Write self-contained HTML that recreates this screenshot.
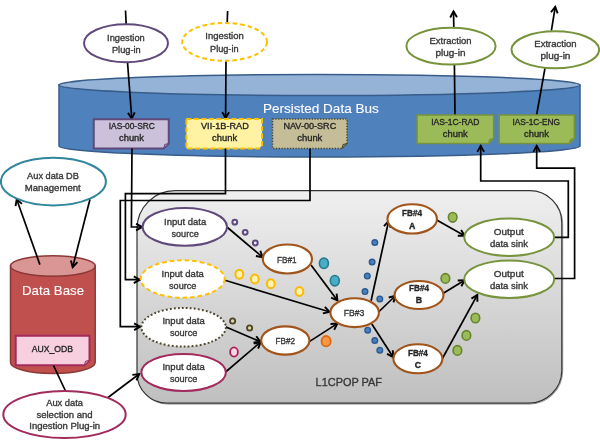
<!DOCTYPE html>
<html><head><meta charset="utf-8">
<style>
html,body{margin:0;padding:0;background:#fff;width:600px;height:440px;overflow:hidden}
svg{display:block;will-change:transform}
text{font-family:"Liberation Sans",sans-serif;fill:#383838;stroke:#383838;stroke-width:0.35}
</style></head><body>
<svg width="600" height="440" viewBox="0 0 600 440">
<defs>
<marker id="ar" markerUnits="userSpaceOnUse" markerWidth="12" markerHeight="12" refX="7.4" refY="4.5" orient="auto">
<path d="M1,1.1 L7,4.5 L1,7.9" fill="none" stroke="#000" stroke-width="1.9" stroke-linejoin="miter"/>
</marker>
<linearGradient id="paf" x1="0" y1="0" x2="0" y2="1">
<stop offset="0" stop-color="#efefef"/>
<stop offset="1" stop-color="#bfbfbf"/>
</linearGradient>
</defs>
<path d="M59,85 L59,146 A260.5,11 0 0 0 580,146 L580,85 Z" fill="#4f81bd" stroke="#385d8a" stroke-width="1.5"/>
<ellipse cx="319.5" cy="85" rx="260.5" ry="10.5" fill="#95b3d7" stroke="#385d8a" stroke-width="1.5"/>
<text x="262.9" y="113" font-size="13.2" text-anchor="start" textLength="115.9" lengthAdjust="spacingAndGlyphs" style="fill:#fff;stroke:#fff;stroke-width:0.1">Persisted Data Bus</text>
<path d="M10.5,266 L10.5,362.5 A42.35,11 0 0 0 95.2,362.5 L95.2,266 Z" fill="#c0504d" stroke="#8c3836" stroke-width="1.5"/>
<ellipse cx="52.85" cy="266" rx="42.35" ry="10.2" fill="#d99694" stroke="#8c3836" stroke-width="1.5"/>
<text x="53.1" y="294.8" font-size="13.2" text-anchor="middle" textLength="62.2" lengthAdjust="spacingAndGlyphs" style="fill:#fff;stroke:#fff;stroke-width:0.1">Data Base</text>
<path d="M137,228.7 A38,38 0 0 1 175,190.7 H529.8 A32,32 0 0 1 561.8,222.7 V370.2 A33,33 0 0 1 528.8,403.2 H167 A30,30 0 0 1 137,373.2 Z" fill="#fff" stroke="#9a9a9a" stroke-width="1" transform="translate(0.9,0.9)"/>
<path d="M137,228.7 A38,38 0 0 1 175,190.7 H529.8 A32,32 0 0 1 561.8,222.7 V370.2 A33,33 0 0 1 528.8,403.2 H167 A30,30 0 0 1 137,373.2 Z" fill="url(#paf)" stroke="#333" stroke-width="1.2"/>
<text x="315.6" y="386.4" font-size="11.5" text-anchor="start" textLength="66.4" lengthAdjust="spacingAndGlyphs">L1CPOP PAF</text>
<line x1="125.5" y1="10.5" x2="126.2" y2="24.5" stroke="#000" stroke-width="1.7"/>
<line x1="127.5" y1="62" x2="131.8" y2="119" stroke="#000" stroke-width="1.7" marker-end="url(#ar)"/>
<ellipse cx="126" cy="43.2" rx="42" ry="19" fill="#fff" stroke="#604a7b" stroke-width="2"/>
<text x="125.9" y="41" font-size="9.3" text-anchor="middle" textLength="37.7" lengthAdjust="spacingAndGlyphs">Ingestion</text>
<text x="126.3" y="53.3" font-size="9.3" text-anchor="middle" textLength="28.7" lengthAdjust="spacingAndGlyphs">Plug-in</text>
<line x1="227.6" y1="11" x2="227.2" y2="23" stroke="#000" stroke-width="1.7"/>
<line x1="226" y1="60.5" x2="225.6" y2="118.5" stroke="#000" stroke-width="1.7" marker-end="url(#ar)"/>
<ellipse cx="224.6" cy="41.9" rx="42.4" ry="18.9" fill="#fff" stroke="#ffc000" stroke-width="2" stroke-dasharray="4.5,3"/>
<text x="224.5" y="39.2" font-size="9.3" text-anchor="middle" textLength="38.5" lengthAdjust="spacingAndGlyphs">Ingestion</text>
<text x="224.3" y="51.5" font-size="9.3" text-anchor="middle" textLength="28.5" lengthAdjust="spacingAndGlyphs">Plug-in</text>
<line x1="453.8" y1="27.8" x2="453.5" y2="11" stroke="#000" stroke-width="1.7" marker-end="url(#ar)"/>
<line x1="454.4" y1="64.6" x2="455" y2="115" stroke="#000" stroke-width="1.7"/>
<ellipse cx="451" cy="46.2" rx="44.6" ry="18.4" fill="#fff" stroke="#77933c" stroke-width="2"/>
<text x="450.5" y="44" font-size="9.3" text-anchor="middle" textLength="42" lengthAdjust="spacingAndGlyphs">Extraction</text>
<text x="450.5" y="55.9" font-size="9.3" text-anchor="middle" textLength="29.9" lengthAdjust="spacingAndGlyphs">plug-in</text>
<line x1="551.4" y1="30.7" x2="555.3" y2="6.5" stroke="#000" stroke-width="1.7" marker-end="url(#ar)"/>
<line x1="545" y1="68.2" x2="536.6" y2="115" stroke="#000" stroke-width="1.7"/>
<ellipse cx="555.3" cy="49.8" rx="43.8" ry="18.5" fill="#fff" stroke="#77933c" stroke-width="2"/>
<text x="555.45" y="46.9" font-size="9.3" text-anchor="middle" textLength="42.3" lengthAdjust="spacingAndGlyphs">Extraction</text>
<text x="555.45" y="58.8" font-size="9.3" text-anchor="middle" textLength="29.9" lengthAdjust="spacingAndGlyphs">plug-in</text>
<path d="M93.75,119.3 H168.75 V143.5 L163.75,148.5 H93.75 Z" fill="#ccc1da" stroke="#5f497a" stroke-width="2"/>
<path d="M163.75,148.5 L164.75,144.5 L168.75,143.5 Z" fill="#a99bbd" stroke="#5f497a" stroke-width="1"/>
<text x="131.8" y="128.8" font-size="9.3" text-anchor="middle" textLength="46" lengthAdjust="spacingAndGlyphs" style="fill:#262626;stroke:#262626">IAS-00-SRC</text>
<text x="131.5" y="140.8" font-size="9.3" text-anchor="middle" textLength="25" lengthAdjust="spacingAndGlyphs" style="fill:#262626;stroke:#262626">chunk</text>
<path d="M186.4,119.1 H262 V145.5 L259,148.5 H186.4 Z" fill="#fff3a3" stroke="#ffc000" stroke-width="2" stroke-dasharray="5,2.5"/>
<text x="224.9" y="128.8" font-size="9.3" text-anchor="middle" textLength="47.8" lengthAdjust="spacingAndGlyphs" style="fill:#262626;stroke:#262626">VII-1B-RAD</text>
<text x="224.6" y="140.5" font-size="9.3" text-anchor="middle" textLength="25" lengthAdjust="spacingAndGlyphs" style="fill:#262626;stroke:#262626">chunk</text>
<path d="M272.5,119.1 H347 V143.5 L342,148.5 H272.5 Z" fill="#c4bd97" stroke="#4a452a" stroke-width="1.5" stroke-dasharray="1.3,1.5"/>
<path d="M342,148.5 L343,144.5 L347,143.5 Z" fill="#9c9470" stroke="#4a452a" stroke-width="1"/>
<text x="309.8" y="128.8" font-size="9.3" text-anchor="middle" textLength="52.8" lengthAdjust="spacingAndGlyphs" style="fill:#262626;stroke:#262626">NAV-00-SRC</text>
<text x="309.8" y="140.5" font-size="9.3" text-anchor="middle" textLength="25" lengthAdjust="spacingAndGlyphs" style="fill:#262626;stroke:#262626">chunk</text>
<path d="M417.1,115.1 H493.6 V138.4 L488.6,143.4 H417.1 Z" fill="#9bbb59" stroke="#77933c" stroke-width="1.5"/>
<path d="M488.6,143.4 L489.6,139.4 L493.6,138.4 Z" fill="#7c9a3e" stroke="#77933c" stroke-width="1"/>
<text x="455.3" y="124.9" font-size="9.3" text-anchor="middle" textLength="48.2" lengthAdjust="spacingAndGlyphs" style="fill:#262626;stroke:#262626">IAS-1C-RAD</text>
<text x="455.3" y="136.9" font-size="9.3" text-anchor="middle" textLength="25" lengthAdjust="spacingAndGlyphs" style="fill:#262626;stroke:#262626">chunk</text>
<path d="M499.2,115.1 H574.3 V138.4 L569.3,143.4 H499.2 Z" fill="#9bbb59" stroke="#77933c" stroke-width="1.5"/>
<path d="M569.3,143.4 L570.3,139.4 L574.3,138.4 Z" fill="#7c9a3e" stroke="#77933c" stroke-width="1"/>
<text x="536.3" y="124.9" font-size="9.3" text-anchor="middle" textLength="47.6" lengthAdjust="spacingAndGlyphs" style="fill:#262626;stroke:#262626">IAS-1C-ENG</text>
<text x="536.5" y="136.9" font-size="9.3" text-anchor="middle" textLength="25" lengthAdjust="spacingAndGlyphs" style="fill:#262626;stroke:#262626">chunk</text>
<polyline points="132,148.5 131.4,227 142.5,227" fill="none" stroke="#000" stroke-width="1.7" marker-end="url(#ar)"/>
<polyline points="225.5,148.5 225.5,193.6 125.4,193.6 125.4,279.7 140.2,279.7" fill="none" stroke="#000" stroke-width="1.7" marker-end="url(#ar)"/>
<polyline points="310,148.5 310,200.5 120.3,200.5 120.3,326.7 140.5,326.7" fill="none" stroke="#000" stroke-width="1.7" marker-end="url(#ar)"/>
<polyline points="554,237.3 568.3,237.3 568.3,181 480.7,181 480.7,145.5" fill="none" stroke="#000" stroke-width="1.7" marker-end="url(#ar)"/>
<polyline points="553.6,278.5 574.6,278.5 574.6,168.2 536.7,168.2 536.7,145.5" fill="none" stroke="#000" stroke-width="1.7" marker-end="url(#ar)"/>
<line x1="39.9" y1="264.6" x2="16.6" y2="199" stroke="#000" stroke-width="1.7" marker-end="url(#ar)"/>
<line x1="90" y1="199.2" x2="72.6" y2="267.5" stroke="#000" stroke-width="1.7" marker-end="url(#ar)"/>
<ellipse cx="53.4" cy="181.6" rx="52.5" ry="23.8" fill="#fff" stroke="#31859c" stroke-width="2"/>
<text x="53" y="178.8" font-size="9.3" text-anchor="middle" textLength="51.8" lengthAdjust="spacingAndGlyphs">Aux data DB</text>
<text x="52.75" y="190.8" font-size="9.3" text-anchor="middle" textLength="55.9" lengthAdjust="spacingAndGlyphs">Management</text>
<path d="M15.7,335.7 H89.5 V360.25 L84.5,365.25 H15.7 Z" fill="#f8cfdf" stroke="#a12b5c" stroke-width="2"/>
<path d="M84.5,365.25 L85.5,361.25 L89.5,360.25 Z" fill="#d89ab0" stroke="#a12b5c" stroke-width="1"/>
<text x="52.4" y="351.75" font-size="9.3" text-anchor="middle" textLength="41.25" lengthAdjust="spacingAndGlyphs" style="fill:#262626;stroke:#262626">AUX_ODB</text>
<line x1="53.5" y1="365.5" x2="65.5" y2="391" stroke="#000" stroke-width="1.7"/>
<line x1="107.7" y1="397.7" x2="139.5" y2="373.8" stroke="#000" stroke-width="1.7" marker-end="url(#ar)"/>
<ellipse cx="64.5" cy="414.5" rx="61.2" ry="23.5" fill="#fff" stroke="#a12b5c" stroke-width="2"/>
<text x="64.6" y="405.6" font-size="9.3" text-anchor="middle" textLength="36.8" lengthAdjust="spacingAndGlyphs">Aux data</text>
<text x="64.55" y="417.5" font-size="9.3" text-anchor="middle" textLength="56.3" lengthAdjust="spacingAndGlyphs">selection and</text>
<text x="64.7" y="429.4" font-size="9.3" text-anchor="middle" textLength="70.85" lengthAdjust="spacingAndGlyphs">Ingestion Plug-in</text>
<line x1="227.5" y1="227.5" x2="263" y2="257.5" stroke="#000" stroke-width="1.7" marker-end="url(#ar)"/>
<line x1="225" y1="280.3" x2="330" y2="312" stroke="#000" stroke-width="1.7" marker-end="url(#ar)"/>
<line x1="311" y1="265" x2="337.7" y2="300.7" stroke="#000" stroke-width="1.7" marker-end="url(#ar)"/>
<line x1="309.3" y1="341.6" x2="337.7" y2="323.4" stroke="#000" stroke-width="1.7" marker-end="url(#ar)"/>
<line x1="225.5" y1="326.7" x2="260.8" y2="341.9" stroke="#000" stroke-width="1.7" marker-end="url(#ar)"/>
<line x1="225.6" y1="372" x2="260.8" y2="341.9" stroke="#000" stroke-width="1.7" marker-end="url(#ar)"/>
<line x1="371.1" y1="300.7" x2="388.7" y2="220.7" stroke="#000" stroke-width="1.7" marker-end="url(#ar)"/>
<line x1="378.6" y1="312" x2="395.7" y2="295.5" stroke="#000" stroke-width="1.7" marker-end="url(#ar)"/>
<line x1="371.8" y1="324" x2="393.4" y2="357.5" stroke="#000" stroke-width="1.7" marker-end="url(#ar)"/>
<line x1="436.7" y1="220" x2="465" y2="236" stroke="#000" stroke-width="1.7" marker-end="url(#ar)"/>
<line x1="443.3" y1="293.3" x2="465" y2="280" stroke="#000" stroke-width="1.7" marker-end="url(#ar)"/>
<line x1="442.4" y1="358.5" x2="477.5" y2="294.6" stroke="#000" stroke-width="1.7" marker-end="url(#ar)"/>
<ellipse cx="184.8" cy="226.9" rx="42.2" ry="18.9" fill="#fff" stroke="#604a7b" stroke-width="2"/>
<text x="185.15" y="224.8" font-size="9.3" text-anchor="middle" textLength="42.3" lengthAdjust="spacingAndGlyphs">Input data</text>
<text x="185.15" y="237.25" font-size="9.3" text-anchor="middle" textLength="27.3" lengthAdjust="spacingAndGlyphs">source</text>
<ellipse cx="182.7" cy="279" rx="42" ry="18.7" fill="#fff" stroke="#ffc000" stroke-width="2" stroke-dasharray="4.5,3"/>
<text x="182.7" y="276.6" font-size="9.3" text-anchor="middle" textLength="42.3" lengthAdjust="spacingAndGlyphs">Input data</text>
<text x="182.7" y="289" font-size="9.3" text-anchor="middle" textLength="27.3" lengthAdjust="spacingAndGlyphs">source</text>
<ellipse cx="183.6" cy="327.3" rx="42.25" ry="19.3" fill="#fff" stroke="#4a452a" stroke-width="2" stroke-dasharray="1.8,2.2"/>
<text x="183.6" y="323.9" font-size="9.3" text-anchor="middle" textLength="42.3" lengthAdjust="spacingAndGlyphs">Input data</text>
<text x="183.6" y="336.4" font-size="9.3" text-anchor="middle" textLength="27.3" lengthAdjust="spacingAndGlyphs">source</text>
<ellipse cx="183.6" cy="372.4" rx="42.25" ry="18.5" fill="#fff" stroke="#a12b5c" stroke-width="2"/>
<text x="183.6" y="370" font-size="9.3" text-anchor="middle" textLength="42.3" lengthAdjust="spacingAndGlyphs">Input data</text>
<text x="183.6" y="382.3" font-size="9.3" text-anchor="middle" textLength="27.3" lengthAdjust="spacingAndGlyphs">source</text>
<ellipse cx="287.4" cy="259" rx="24.6" ry="14.5" fill="#fff" stroke="#a0541a" stroke-width="2.1"/>
<text x="286.75" y="262.5" font-size="9.3" text-anchor="middle" textLength="19.5" lengthAdjust="spacingAndGlyphs">FB#1</text>
<ellipse cx="285.3" cy="340.5" rx="24.1" ry="14.1" fill="#fff" stroke="#a0541a" stroke-width="2.1"/>
<text x="285.35" y="344.4" font-size="9.3" text-anchor="middle" textLength="19.5" lengthAdjust="spacingAndGlyphs">FB#2</text>
<ellipse cx="354.65" cy="312.7" rx="24.25" ry="14.4" fill="#fff" stroke="#a0541a" stroke-width="2.1"/>
<text x="354.1" y="315.6" font-size="9.3" text-anchor="middle" textLength="20.6" lengthAdjust="spacingAndGlyphs">FB#3</text>
<ellipse cx="412.2" cy="218.9" rx="24.75" ry="14.65" fill="#fff" stroke="#a0541a" stroke-width="2.1"/>
<text x="412" y="215.8" font-size="8.8" text-anchor="middle" textLength="20" lengthAdjust="spacingAndGlyphs" font-weight="bold" style="fill:#262626;stroke:#262626">FB#4</text>
<text x="412.25" y="228.5" font-size="8.8" text-anchor="middle" font-weight="bold" style="fill:#262626;stroke:#262626">A</text>
<ellipse cx="419" cy="295" rx="24.5" ry="14" fill="#fff" stroke="#a0541a" stroke-width="2.1"/>
<text x="419" y="291.2" font-size="8.8" text-anchor="middle" textLength="20" lengthAdjust="spacingAndGlyphs" font-weight="bold" style="fill:#262626;stroke:#262626">FB#4</text>
<text x="419" y="303.2" font-size="8.8" text-anchor="middle" font-weight="bold" style="fill:#262626;stroke:#262626">B</text>
<ellipse cx="417.9" cy="358.8" rx="24.5" ry="14.5" fill="#fff" stroke="#a0541a" stroke-width="2.1"/>
<text x="417.9" y="356.1" font-size="8.8" text-anchor="middle" textLength="20" lengthAdjust="spacingAndGlyphs" font-weight="bold" style="fill:#262626;stroke:#262626">FB#4</text>
<text x="417.9" y="368.1" font-size="8.8" text-anchor="middle" font-weight="bold" style="fill:#262626;stroke:#262626">C</text>
<ellipse cx="509.2" cy="237.2" rx="45" ry="18.7" fill="#fff" stroke="#77933c" stroke-width="2"/>
<text x="508.75" y="235.3" font-size="9.3" text-anchor="middle" textLength="29.9" lengthAdjust="spacingAndGlyphs">Output</text>
<text x="508.95" y="247.4" font-size="9.3" text-anchor="middle" textLength="38.1" lengthAdjust="spacingAndGlyphs">data sink</text>
<ellipse cx="509.2" cy="279.2" rx="45" ry="18.8" fill="#fff" stroke="#77933c" stroke-width="2"/>
<text x="508.75" y="276.8" font-size="9.3" text-anchor="middle" textLength="29.9" lengthAdjust="spacingAndGlyphs">Output</text>
<text x="508.95" y="289.3" font-size="9.3" text-anchor="middle" textLength="38.1" lengthAdjust="spacingAndGlyphs">data sink</text>
<g fill="#f0eaf6" stroke="#5e4a82" stroke-width="2">
<circle cx="234.8" cy="222.2" r="2.4"/>
<circle cx="245.2" cy="232.3" r="2.4"/>
<circle cx="255.3" cy="243" r="2.4"/>
</g>
<g fill="#fff3b0" stroke="#fdb900" stroke-width="2">
<ellipse cx="239.3" cy="274.2" rx="3.9" ry="4.5"/>
<ellipse cx="254.8" cy="279" rx="3.9" ry="4.5"/>
<ellipse cx="270.8" cy="283.7" rx="3.9" ry="4.5"/>
<ellipse cx="299.4" cy="291.5" rx="3.9" ry="4.5"/>
</g>
<g fill="#4bacc6" stroke="#237a91" stroke-width="1.6">
<ellipse cx="323.9" cy="263.3" rx="4.5" ry="5.2"/>
<ellipse cx="334.8" cy="280.7" rx="4.5" ry="5.2"/>
</g>
<g fill="#ddd6a8" stroke="#4a452a" stroke-width="1.8">
<circle cx="232.6" cy="321" r="2.6"/>
<circle cx="249.6" cy="328" r="2.6"/>
</g>
<ellipse cx="234" cy="352" rx="3.9" ry="4.6" fill="#fad4e2" stroke="#a8235a" stroke-width="1.8"/>
<ellipse cx="326.1" cy="341.2" rx="4.6" ry="5.2" fill="#f79646" stroke="#dc6a12" stroke-width="1.8"/>
<g fill="#4a7fc0" stroke="#2c5a90" stroke-width="1.4">
<circle cx="374.8" cy="242.5" r="2.8"/>
<circle cx="372.1" cy="262" r="2.8"/>
<circle cx="367.3" cy="276.1" r="2.8"/>
<circle cx="365" cy="291.6" r="2.8"/>
<circle cx="379.8" cy="298.9" r="2.8"/>
<circle cx="367.7" cy="330.2" r="2.8"/>
<circle cx="374.8" cy="340.5" r="2.8"/>
<circle cx="379.8" cy="350.2" r="2.8"/>
</g>
<g fill="#9bbb59" stroke="#66852c" stroke-width="1.6">
<ellipse cx="452.7" cy="217.3" rx="4.3" ry="4.8"/>
<ellipse cx="445.4" cy="278.4" rx="4.3" ry="4.8"/>
<ellipse cx="475.4" cy="318" rx="4.3" ry="4.8"/>
<ellipse cx="466.4" cy="335.4" rx="4.3" ry="4.8"/>
<ellipse cx="457.4" cy="350.4" rx="4.3" ry="4.8"/>
</g>
</svg>
</body></html>
